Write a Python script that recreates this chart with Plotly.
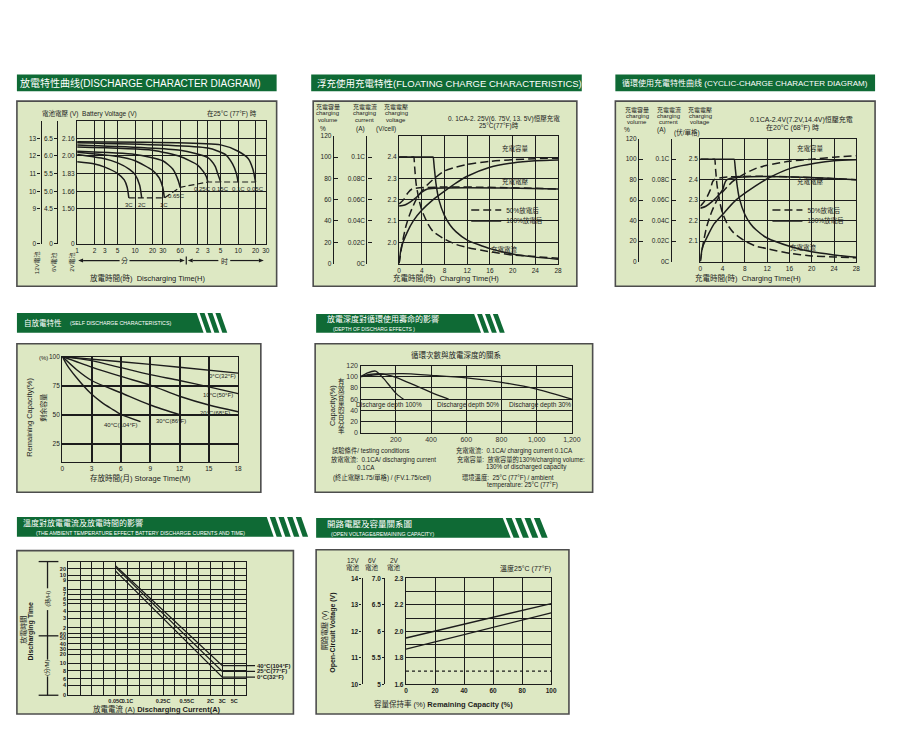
import numpy as np
import plotly.graph_objects as go

W, H = 898, 731
OFF = 8  # default page margin of the browser body
FW, FH = W - 2 * OFF, H - 2 * OFF
FONT = "Liberation Sans, Noto Sans CJK TC, sans-serif"
INK = "#1c1c1c"
GREEN = "#0f6a35"
PANEL = "#dde8c3"
EDGE = "#4d4d4d"
DASH = "6px,3px"
DASH2 = "8px,4px"

# ================= DATA =================
# Panel 1 - discharge curves (time in minutes, volts per cell)
p1_time_ticks = [1, 2, 3, 5, 10, 20, 30, 60, 120, 180, 300, 600, 1200, 1800]
p1_time_text = ["1", "2", "3", "5", "10", "20", "30", "60", "2", "3", "5", "10", "20", "30"]
p1_volt_ticks = [1.168, 1.50, 1.66, 1.83, 2.00, 2.16]
p1_volt_top = 2.326
p1_text_2v = ["0", "1.50", "1.66", "1.83", "2.00", "2.16"]
p1_text_6v = ["0", "4.5", "5.0", "5.5", "6.0", "6.5"]
p1_text_12v = ["0", "9", "10", "11", "12", "13"]
rates = ["3C", "2C", "1C", "0.65C", "0.25C", "0.15C", "0.1C", "0.05C"]
t_3c = [1, 2, 3, 5, 6.5, 7.3, 7.8]
v_3c = [1.94, 1.92, 1.89, 1.83, 1.77, 1.70, 1.60]
t_2c = [1, 3, 5, 8, 10, 12, 13]
v_2c = [2.01, 1.97, 1.93, 1.87, 1.82, 1.72, 1.60]
t_1c = [1, 5, 10, 20, 26, 30, 32]
v_1c = [2.03, 1.99, 1.95, 1.86, 1.79, 1.70, 1.60]
t_065c = [1, 10, 30, 45, 55, 60]
v_065c = [2.04, 2.01, 1.95, 1.87, 1.77, 1.70]
t_025c = [1, 20, 60, 120, 150, 170, 180]
v_025c = [2.08, 2.05, 1.99, 1.91, 1.85, 1.80, 1.75]
t_015c = [1, 60, 180, 240, 270, 300]
v_015c = [2.10, 2.05, 1.98, 1.90, 1.82, 1.75]
t_01c = [1, 180, 360, 480, 560, 600]
v_01c = [2.12, 2.07, 2.01, 1.92, 1.83, 1.75]
t_005c = [1, 300, 600, 900, 1080, 1200]
v_005c = [2.13, 2.10, 2.04, 1.97, 1.87, 1.75]
t_endv = [7.8, 32, 60, 180, 1200]
v_endv = [1.60, 1.60, 1.70, 1.75, 1.75]

# Panels 2 & 3 - charging characteristics (hours; %, C, V/cell)
chg_hours = [0, 4, 8, 12, 16, 20, 24, 28]
pct_ticks = [0, 20, 40, 60, 80, 100, 120]
cur_ticks = [0, 0.02, 0.04, 0.06, 0.08, 0.10, 0.12]
cur_text = ["0C", "0.02C", "0.04C", "0.06C", "0.08C", "0.1C", ""]

fl_cap50_t = [0, 0.6, 1.2, 2, 3, 4, 5, 6, 8, 10, 12, 16, 20, 24, 28]
fl_cap50 = [0, 20, 35, 48, 60, 68, 74, 79, 87, 90.5, 93, 96, 97.5, 98.5, 99]
fl_cap100_t = [0, 0.4, 1.4, 2.5, 3.9, 6, 8, 10, 12, 16, 20, 24, 28]
fl_cap100 = [0, 15, 29, 40, 49.5, 60, 68, 75.5, 82, 90.5, 94.5, 96.5, 97.2]
fl_v50_t = [0, 0.8, 1.5, 2.3, 28]
fl_v50 = [2.18, 2.20, 2.23, 2.25, 2.25]
fl_v100_t = [0, 1, 2, 3, 4, 5, 28]
fl_v100 = [2.17, 2.175, 2.19, 2.21, 2.235, 2.25, 2.25]
fl_i50_t = [0, 2.5, 2.6, 2.75, 3.0, 3.5, 4, 5, 6, 8, 10, 12, 16, 20, 24, 28]
fl_i50 = [0.1, 0.1, 0.1, 0.09, 0.075, 0.06, 0.05, 0.038, 0.03, 0.023, 0.018, 0.015, 0.011, 0.008, 0.0065, 0.005]
fl_i100_t = [0, 5.9, 6, 6.2, 6.5, 7, 8, 9, 10, 12, 16, 20, 24, 28]
fl_i100 = [0.1, 0.1, 0.1, 0.09, 0.075, 0.06, 0.045, 0.036, 0.03, 0.022, 0.014, 0.009, 0.006, 0.004]

cy_cap50_t = [0, 0.6, 1.2, 2, 3, 4, 5, 6, 8, 10, 12, 16, 20, 24, 28]
cy_cap50 = [0, 20, 35, 48, 60, 68, 74, 79, 86, 91, 94, 98, 100, 102, 103.5]
cy_cap100_t = [0, 0.4, 1.5, 2.5, 4, 6.2, 8.2, 12.4, 16.5, 20.6, 24, 28]
cy_cap100 = [0, 14, 27, 37, 46, 59, 67.5, 82, 91.5, 96, 98.5, 99.5]
cy_v50_t = [0, 0.9, 1.8, 2.5, 28]
cy_v50 = [2.27, 2.30, 2.35, 2.40, 2.40]
cy_v100_t = [0, 1, 2, 3, 4, 4.8, 28]
cy_v100 = [2.26, 2.27, 2.29, 2.315, 2.35, 2.40, 2.40]
cy_i50_t = [0, 2.5, 2.6, 2.75, 3, 3.5, 4, 5, 6, 8, 10, 12, 16, 20, 24, 28]
cy_i50 = [0.1, 0.1, 0.1, 0.09, 0.075, 0.058, 0.047, 0.035, 0.028, 0.02, 0.015, 0.0125, 0.008, 0.0055, 0.0045, 0.0036]
cy_i100_t = [0, 6.0, 6.1, 6.3, 6.6, 7, 8, 9, 10, 12, 16, 20, 24, 28]
cy_i100 = [0.1, 0.1, 0.1, 0.09, 0.075, 0.062, 0.046, 0.037, 0.031, 0.023, 0.015, 0.0095, 0.0065, 0.0042]

# Panel 4 - self discharge (months, % remaining)
sd_month_ticks = [0, 3, 6, 9, 12, 15, 18]
sd_pct_ticks = [25, 50, 75, 100]
sd_labels = ["0°C(32°F)", "10°C(50°F)", "20°C(68°F)", "30°C(86°F)", "40°C(104°F)"]
sd_m_0 = [0, 6, 12, 18]
sd_c_0 = [100, 95.6, 90.9, 85.8]
sd_m_10 = [0, 3, 6, 9, 12, 15, 18]
sd_c_10 = [100, 96.5, 90.5, 84.5, 79.5, 74, 68.3]
sd_m_20 = [0, 3, 6, 9, 12, 15, 18]
sd_c_20 = [100, 91, 83, 75.5, 66, 58.5, 52.7]
sd_m_30 = [0, 1.5, 3, 6, 9, 12.1]
sd_c_30 = [100, 88.5, 79.5, 69, 58.5, 50]
sd_m_40 = [0, 0.5, 1.4, 2.9, 4, 5, 6, 8]
sd_c_40 = [100, 92.5, 82.5, 68.5, 61, 55.5, 50.5, 44.3]

# Panel 5 - depth of discharge (cycles, capacity %)
dod_cycle_ticks = [200, 400, 600, 800, 1000, 1200]
dod_cycle_text = ["200", "400", "600", "800", "1,000", "1,200"]
dod_pct_ticks = [0, 20, 40, 60, 80, 100, 120]
dod_labels = ["Discharge depth 100%", "Discharge depth 50%", "Discharge depth 30%"]
dod_n_100 = [0, 40, 85, 130, 170, 206, 244]
dod_c_100 = [100, 107, 110, 97, 82, 69, 60]
dod_n_50 = [0, 50, 110, 150, 200, 300, 400, 500]
dod_c_50 = [100, 104, 105.5, 103.5, 99, 86, 72, 60]
dod_n_30 = [0, 100, 240, 400, 600, 800, 1000, 1200]
dod_c_30 = [100, 104, 105.5, 102.5, 98, 90, 78, 60]

# Panel 6 - temperature effect (current in C, time in minutes) on a nomogram scale
tc_labels = ["40°C(104°F)", "25°C(77°F)", "0°C(32°F)"]
tc_current = [0.05, 3]
tc_time_40 = [1320, 9.3]
tc_time_25 = [1260, 7.8]
tc_time_0 = [990, 6.4]
nomo_y_text = ["0", "4", "6", "8", "10", "20", "30", "40", "50", "60", "2", "3", "4", "5", "6", "7", "8", "9", "10", "20", ""]
nomo_y_minutes = [0, 4, 6, 8, 10, 20, 30, 40, 50, 60, 120, 180, 240, 300, 360, 420, 480, 540, 600, 1200, 1500]
nomo_y_scale = [0, 30, 50, 75, 98, 125, 140, 157, 175, 187, 205, 235, 255, 278, 292, 307, 322, 350, 365, 385, 407]
nomo_x_text = ["0.05C", "0.1C", "0.25C", "0.55C", "2C", "3C", "5C"]
nomo_x_current = [0.05, 0.1, 0.25, 0.55, 2, 3, 5]
nomo_x_scale = [4, 5, 8, 10, 12, 13, 14]

# Panel 7 - open circuit voltage vs remaining capacity (12V battery scale)
ocv_capacity = [0, 100]
ocv_upper = [11.75, 13.05]
ocv_lower = [11.33, 12.70]
ocv_cutoff = 10.5
ocv_cap_ticks = [0, 20, 40, 60, 80, 100]
ocv_ticks = [10, 11, 12, 13, 14]
ocv_text_12v = ["10", "11", "12", "13", "14"]
ocv_text_6v = ["5", "5.5", "6", "6.5", "7.0"]
ocv_text_2v = ["1.6", "1.8", "2.0", "2.2", "2.3"]


# ================= HELPERS =================
def X(px):
    return (px - OFF) / FW


def Y(py):
    return 1 - (py - OFF) / FH


layout = dict(width=FW, height=FH, autosize=False, margin=dict(l=0, r=0, t=0, b=0, pad=0),
              paper_bgcolor="white", plot_bgcolor="rgba(0,0,0,0)", hovermode=False,
              font=dict(family=FONT, size=7, color=INK), shapes=[], annotations=[])
traces = []
counter = {"x": 0, "y": 0}


def axname(kind, n):
    return (kind + "axis") if n == 1 else f"{kind}axis{n}"


def axref(kind, n):
    return kind if n == 1 else f"{kind}{n}"


def axis_common():
    return dict(showline=True, mirror=True, linecolor=INK, linewidth=1.4, showgrid=True,
                gridcolor=INK, gridwidth=1.1, zeroline=False, ticks="", tickmode="array",
                tickfont=dict(size=6.5, color=INK, family=FONT), fixedrange=True)


def base_axes(px0, px1, py0, py1, xkw, ykw):
    counter["x"] += 1
    counter["y"] += 1
    nx, ny = counter["x"], counter["y"]
    xr, yr = axref("x", nx), axref("y", ny)
    xa = axis_common()
    xa.update(domain=[X(px0), X(px1)], anchor=yr)
    xa.update(xkw)
    ya = axis_common()
    ya.update(domain=[Y(py1), Y(py0)], anchor=xr)
    ya.update(ykw)
    layout[axname("x", nx)] = xa
    layout[axname("y", ny)] = ya
    return xr, yr


def extra_y(base_yr, xr, px, **kw):
    counter["y"] += 1
    ny = counter["y"]
    yr = axref("y", ny)
    ya = dict(overlaying=base_yr, anchor="free", position=X(px), side="left", showline=True,
              linecolor=INK, linewidth=1.3, showgrid=False, zeroline=False, tickmode="array",
              ticks="outside", ticklen=3, tickcolor=INK, tickwidth=1.2,
              tickfont=dict(size=6.5, color=INK, family=FONT), fixedrange=True)
    ya.update(kw)
    layout[axname("y", ny)] = ya
    traces.append(go.Scatter(x=[None], y=[None], xaxis=xr, yaxis=yr, mode="lines",
                             showlegend=False, hoverinfo="skip"))
    return yr


def line(x, y, xr, yr, dash="solid", width=1.5, shape="spline", smoothing=0.7, name=None, legend=None):
    kw = dict(x=x, y=y, xaxis=xr, yaxis=yr, mode="lines", hoverinfo="skip",
              line=dict(color=INK, width=width, dash=dash, shape=shape, smoothing=smoothing),
              showlegend=name is not None)
    if name is not None:
        kw["name"] = name
        kw["legend"] = legend
    traces.append(go.Scatter(**kw))


def txt(x, y, s, size=7, color=INK, anchor="center", angle=0, xref="paper", yref="paper"):
    if xref == "paper":
        x = X(x)
    if yref == "paper":
        y = Y(y)
    layout["annotations"].append(dict(x=x, y=y, xref=xref, yref=yref, text=s, showarrow=False,
                                      xanchor=anchor, yanchor="middle", textangle=angle,
                                      font=dict(size=size, color=color, family=FONT)))


def rect(x0, y0, x1, y1, fill, edge=None, lw=0):
    layout["shapes"].append(dict(type="rect", xref="paper", yref="paper", x0=X(x0), x1=X(x1),
                                 y0=Y(y1), y1=Y(y0), fillcolor=fill, layer="below",
                                 line=dict(color=edge or fill, width=lw)))


def poly(pts, fill, layer="below"):
    path = "M " + " L ".join(f"{X(a):.5f},{Y(b):.5f}" for a, b in pts) + " Z"
    layout["shapes"].append(dict(type="path", xref="paper", yref="paper", path=path,
                                 fillcolor=fill, line=dict(width=0), layer=layer))


def seg(x0, y0, x1, y1, width=1.2):
    layout["shapes"].append(dict(type="line", xref="paper", yref="paper", x0=X(x0), y0=Y(y0),
                                 x1=X(x1), y1=Y(y1), line=dict(color=INK, width=width)))


def header(x0, x1, y0, y1, n=0, gap=3, w=5, pitch=8, shear=7):
    if n == 0:
        rect(x0, y0, x1, y1, GREEN)
        return
    poly([(x0, y0), (x1, y0), (x1 + shear, y1), (x0, y1)], GREEN)
    for i in range(n):
        sx = x1 + gap + i * pitch
        poly([(sx, y0), (sx + w, y0), (sx + w + shear, y1), (sx + shear, y1)], GREEN)


def panel(x0, y0, x1, y1):
    rect(x0, y0, x1, y1, PANEL, EDGE, 1.6)


def legend_box(key, px, py):
    layout[key] = dict(x=X(px), y=Y(py), xanchor="left", yanchor="middle", bgcolor="rgba(0,0,0,0)",
                       font=dict(size=6.5, color=INK, family=FONT), itemwidth=30, tracegroupgap=0,
                       borderwidth=0)


# ================= PANEL 1 =================
header(15, 278, 71, 88)
txt(140, 80, "放電特性曲线(DISCHARGE CHARACTER DIAGRAM)", size=10, color="white")
panel(15, 98, 278, 285)
x1r, y1r = base_axes(76, 267, 118, 242,
                     dict(type="log", range=[0, np.log10(1800)], tickvals=p1_time_ticks,
                          ticktext=p1_time_text, gridwidth=1.4),
                     dict(range=[p1_volt_ticks[0], p1_volt_top], tickvals=p1_volt_ticks,
                          ticktext=p1_text_2v, gridwidth=1.4))
extra_y(y1r, x1r, 39, range=[p1_volt_ticks[0], p1_volt_top], tickvals=p1_volt_ticks, ticktext=p1_text_12v)
extra_y(y1r, x1r, 56, range=[p1_volt_ticks[0], p1_volt_top], tickvals=p1_volt_ticks, ticktext=p1_text_6v)
p1_curves = [(t_3c, v_3c), (t_2c, v_2c), (t_1c, v_1c), (t_065c, v_065c), (t_025c, v_025c),
             (t_015c, v_015c), (t_01c, v_01c), (t_005c, v_005c)]
for tt, vv in p1_curves:
    line(tt, vv, x1r, y1r, width=1.5, smoothing=0.6)
line(t_endv, v_endv, x1r, y1r, dash=DASH, width=1.2, shape="linear")
p1_label_shift = [1.0, 1.0, 1.0, 0.85, 0.8, 1.0, 1.0, 1.0]
for (tt, vv), lab, f in zip(p1_curves, rates, p1_label_shift):
    dv = 0.08 if lab == "0.65C" else 0.065
    txt(np.log10(tt[-1] * f), vv[-1] - dv, lab, size=6, xref=x1r, yref=y1r)
txt(89, 111, "電池電壓 (V)  Battery Voltage (V)", size=6.5)
txt(233, 110, "在25°C (77°F) 時", size=6.5)
txt(35, 261, "12V電池", size=6, angle=-90)
txt(52, 261, "6V電池", size=6, angle=-90)
txt(70, 261, "2V電池", size=6, angle=-90)
# minute / hour arrow row
poly([(77, 259), (82, 257), (82, 261)], INK, layer="above")
seg(82, 259, 119, 259)
txt(124, 259, "分", size=7)
seg(129, 259, 180, 259)
poly([(185, 259), (180, 257), (180, 261)], INK, layer="above")
seg(186.5, 255, 186.5, 263)
poly([(188, 259), (193, 257), (193, 261)], INK, layer="above")
seg(193, 259, 219, 259)
txt(225, 259, "时", size=7)
seg(231, 259, 260, 259)
poly([(265, 259), (260, 257), (260, 261)], INK, layer="above")
txt(148, 277, "放電時間(時)  Discharging Time(H)", size=7.5)


# ================= PANELS 2 & 3 =================
def charge_panel(px0, px1, py0, py1, v_lo, v_ticks, pct_px, cur_px, cap50, cap100, v50, v100,
                 i50, i100, leg_a, leg_b):
    xr, yv = base_axes(px0, px1, py0, py1,
                       dict(range=[0, 28], tickvals=chg_hours, ticktext=[str(h) for h in chg_hours]),
                       dict(range=[v_lo, v_lo + 0.6], tickvals=v_ticks,
                            ticktext=[f"{v:.1f}" for v in v_ticks]))
    yp = extra_y(yv, xr, pct_px, range=[0, 120], tickvals=pct_ticks,
                 ticktext=[str(p) for p in pct_ticks], ticks="inside", ticklen=4)
    yi = extra_y(yv, xr, cur_px, range=[0, 0.12], tickvals=cur_ticks, ticktext=cur_text,
                 ticks="inside", ticklen=4)
    line(cap50[0], cap50[1], xr, yp, dash=DASH2, name="50%放電后", legend=leg_a)
    line(cap100[0], cap100[1], xr, yp, name="100%放電后", legend=leg_b)
    line(v50[0], v50[1], xr, yv, dash=DASH2)
    line(v100[0], v100[1], xr, yv)
    line(i50[0], i50[1], xr, yi, dash=DASH2, smoothing=0.5)
    line(i100[0], i100[1], xr, yi, smoothing=0.5)
    return xr, yv, yp, yi


# Panel 2
header(313, 587, 71, 88)
txt(453, 80, "浮充使用充電特性(FLOATING CHARGE CHARACTERISTICS)", size=9.5, color="white")
panel(315, 98, 582, 285)
x2r, y2v, y2p, y2i = charge_panel(402, 563, 133, 262, 1.9, [2.0, 2.1, 2.2, 2.3, 2.4], 335, 369,
                                  (fl_cap50_t, fl_cap50), (fl_cap100_t, fl_cap100),
                                  (fl_v50_t, fl_v50), (fl_v100_t, fl_v100),
                                  (fl_i50_t, fl_i50), (fl_i100_t, fl_i100), "legend", "legend2")
for cx, lines3 in [(330, ["充電容量", "charging", "volume"]), (367, ["充電電流", "charging", "current"]),
                   (399, ["充電電壓", "charging", "voltage"])]:
    for k, s in enumerate(lines3):
        txt(cx, 104 + k * 6.5, s, size=6)
txt(325, 126, "%", size=6.5)
txt(363, 126, "(A)", size=6.5)
txt(389, 126, "(V/cell)", size=6.5)
txt(508, 116, "0. 1CA-2. 25V(6. 75V, 13. 5V)恒壓充電", size=6.5)
txt(503, 123, "25°C(77°F)時", size=6.5)
txt(20.5, 108.5, "充電容量", size=6.5, xref=x2r, yref=y2p)
txt(20.5, 77.5, "充電電壓", size=6.5, xref=x2r, yref=y2p)
txt(18.5, 13.4, "充電電流", size=6.5, xref=x2r, yref=y2p)
txt(450, 277, "充電時間(時)  Charging Time(H)", size=7.5)
legend_box("legend", 470, 208)
legend_box("legend2", 470, 219)

# Panel 3
header(621, 884, 71, 88)
txt(752, 80, "循環使用充電特性曲线 (CYCLIC-CHARGE CHARACTER DIAGRAM)", size=8, color="white")
panel(621, 98, 884, 285)
x3r, y3v, y3p, y3i = charge_panel(707, 865, 136, 260, 2.0, [2.1, 2.2, 2.3, 2.4, 2.5], 644, 677,
                                  (cy_cap50_t, cy_cap50), (cy_cap100_t, cy_cap100),
                                  (cy_v50_t, cy_v50), (cy_v100_t, cy_v100),
                                  (cy_i50_t, cy_i50), (cy_i100_t, cy_i100), "legend3", "legend4")
for cx, lines3 in [(643, ["充電容量", "charging", "volume"]), (675, ["充電電流", "charging", "current"]),
                   (707, ["充電電壓", "charging", "voltage"])]:
    for k, s in enumerate(lines3):
        txt(cx, 107 + k * 5.8, s, size=6)
txt(633, 127, "%", size=6.5)
txt(668, 127, "(A)", size=6.5)
txt(694, 130, "(伏/單格)", size=6.5)
txt(810, 117, "0.1CA-2.4V(7.2V,14.4V)恒壓充電", size=7)
txt(800, 125, "在20°C (68°F) 時", size=7)
txt(19.8, 110, "充電容量", size=6.5, xref=x3r, yref=y3p)
txt(19.8, 77.8, "充電電壓", size=6.5, xref=x3r, yref=y3p)
txt(18.6, 14, "充電電流", size=6.5, xref=x3r, yref=y3p)
txt(755, 277, "充電時間(時)  Charging Time(H)", size=7.5)
legend_box("legend3", 775, 208)
legend_box("legend4", 775, 219)

# ================= PANEL 4 =================
header(15, 197, 312, 332, n=3, gap=3, w=5, pitch=8, shear=7)
txt(41, 322, "自放電特性", size=7.5, color="white")
txt(120, 322.5, "(SELF DISCHARGE CHARACTERISTICS)", size=5.3, color="white")
panel(15, 343, 262, 493)
x4r, y4r = base_axes(61, 239, 356, 462,
                     dict(range=[0, 18], tickvals=sd_month_ticks, ticktext=[str(m) for m in sd_month_ticks],
                          gridwidth=1.6),
                     dict(range=[10, 100], tickvals=sd_pct_ticks, ticktext=[str(p) for p in sd_pct_ticks],
                          gridwidth=1.6))
sd_curves = [(sd_m_0, sd_c_0), (sd_m_10, sd_c_10), (sd_m_20, sd_c_20), (sd_m_30, sd_c_30), (sd_m_40, sd_c_40)]
for mm, cc in sd_curves:
    line(mm, cc, x4r, y4r, width=1.4, smoothing=0.8)
sd_label_dx = [-1.6, -2.1, -2.4, -1.0, -2.0]
sd_label_dy = [-2.8, -1.4, -1.1, -5.2, -2.9]
for (mm, cc), lab, ddx, ddy in zip(sd_curves, sd_labels, sd_label_dx, sd_label_dy):
    txt(mm[-1] + ddx, cc[-1] + ddy, lab, size=6, xref=x4r, yref=y4r)
txt(42, 357, "(%)", size=6)
txt(28, 417, "Remaining Capacity(%)", size=7.5, angle=-90)
txt(42, 408, "剩余容量", size=7, angle=-90)
txt(140, 479, "存放時間(月) Storage Time(M)", size=7.5)

# ================= PANEL 5 =================
header(318, 478, 313, 332, n=3, gap=3, w=5, pitch=8, shear=7)
txt(386, 318, "放電深度對循環使用壽命的影響", size=8, color="white")
txt(377, 328, "(DEPTH OF DISCHARG EFFECTS )", size=5, color="white")
panel(317, 343, 598, 493)
x5r, y5r = base_axes(363, 577, 365, 433,
                     dict(range=[0, 1200], tickvals=dod_cycle_ticks, ticktext=dod_cycle_text,
                          tickfont=dict(size=7, color="#333", family=FONT)),
                     dict(range=[0, 120], tickvals=dod_pct_ticks, ticktext=[str(p) for p in dod_pct_ticks],
                          tickfont=dict(size=7, color="#333", family=FONT)))
dod_curves = [(dod_n_100, dod_c_100), (dod_n_50, dod_c_50), (dod_n_30, dod_c_30)]
for nn, cc in dod_curves:
    line(nn, cc, x5r, y5r, width=1.3, smoothing=0.8)
for (nn, cc), lab, frac in zip(dod_curves, dod_labels, [0.67, 1.22, 0.85]):
    txt(nn[-1] * frac, 50, lab, size=6.5, xref=x5r, yref=y5r)
txt(460, 354, "循環次數與放電深度的關系", size=7.5)
txt(334, 405, "Capacity(%)", size=7.5, angle=-90)
for k, ch in enumerate("有效容量的百分率"):
    txt(344, 381 + k * 7.1, ch, size=6.5)
txt(373, 451, "試驗條件/ testing conditions", size=6.3)
txt(386, 460, "放電電流:  0.1CA/ discharging current", size=6.3)
txt(369, 468, "0.1CA", size=6.3)
txt(385, 478, "(終止電壓1.75/單格) / (FV.1.75/cell)", size=6.3)
txt(519, 451, "充電電流:  0.1CA/ charging current 0.1CA", size=6.3)
txt(525, 460, "充電容量:  放電容量的130%/charging volume:", size=6.3)
txt(531, 468, "130% of discharged capacity", size=6.3)
txt(512, 478, "環境溫度:  25°C (77°F) / ambient", size=6.3)
txt(527, 486, "temperature: 25°C (77°F)", size=6.3)

# ================= PANEL 6 =================
header(15, 268, 518, 538, n=4, gap=3, w=5.5, pitch=8.8, shear=7)
txt(82, 524, "溫度對放電電流及放電時間的影響", size=8, color="white")
txt(140, 534, "(THE AMBIENT TEMPERATURE EFFECT BATTERY DISCHARGE CURENTS AND TIME)", size=5.2, color="white")
panel(15, 552, 295, 717)
x6r, y6r = base_axes(67, 247, 563, 698,
                     dict(range=[0, 15], tickvals=nomo_x_scale, ticktext=[f"<b>{s}</b>" for s in nomo_x_text],
                          tickangle=0, tickfont=dict(size=5.5, color=INK, family=FONT), showgrid=False,
                          minor=dict(tickvals=list(range(0, 16)), showgrid=True, gridcolor=INK, gridwidth=1.1,
                                     ticks="")),
                     dict(range=[0, nomo_y_scale[-1]], tickvals=nomo_y_scale[:-1],
                          ticktext=[f"<b>{s}</b>" for s in nomo_y_text[:-1]],
                          tickfont=dict(size=5.5, color=INK, family=FONT)))
log_cur = np.log10(nomo_x_current)


def nomo_x(c):
    return float(np.interp(np.log10(c), log_cur, nomo_x_scale))


def nomo_y(m):
    return float(np.interp(m, nomo_y_minutes, nomo_y_scale))


for times, lab in zip([tc_time_40, tc_time_25, tc_time_0], tc_labels):
    xs = [nomo_x(c) for c in tc_current] + [15]
    ys = [nomo_y(m) for m in times] + [nomo_y(times[-1])]
    line(xs, ys, x6r, y6r, width=1.3, shape="linear")
    layout["annotations"].append(dict(x=15, y=ys[-1], xref=x6r, yref=y6r, text=f"<b>{lab}</b>",
                                      showarrow=True, arrowhead=0, arrowwidth=1.3, arrowcolor=INK,
                                      ax=9, ay=0, xanchor="left", yanchor="middle",
                                      font=dict(size=6, color=INK, family=FONT)))
# left bracket of the time scale
for a, b in [(563, 590), (612, 662), (679, 698)]:
    seg(46, a, 46, b, width=1.3)
for yy in [563, 638, 698]:
    seg(37, yy, 57, yy, width=1.3)
txt(46, 601, "(時/H)", size=6, angle=-90)
txt(46, 670, "(分/M)", size=6, angle=-90)
txt(22, 632, "放電時間", size=7, angle=-90)
txt(29, 633, "<b>Discharging Time</b>", size=7, angle=-90)
txt(157, 712, "放電電流 (A) <b>Discharging Current(A)</b>", size=7.5)

# ================= PANEL 7 =================
header(318, 507, 519, 539, n=4, gap=3, w=6, pitch=9.5, shear=8)
txt(372, 525, "開路電壓及容量關系圖", size=8.5, color="white")
txt(385, 535, "(OPEN VOLTAGE&REMAINING CAPACITY)", size=5.2, color="white")
panel(318, 551, 574, 717)
x7r, y7r = base_axes(409, 556, 580, 687,
                     dict(range=[0, 100], tickvals=ocv_cap_ticks, ticktext=[f"<b>{c}</b>" for c in ocv_cap_ticks]),
                     dict(range=[10, 14], tickvals=ocv_ticks, ticktext=[f"<b>{s}</b>" for s in ocv_text_2v],
                          minor=dict(tickvals=[11.5, 12.5, 13.5], showgrid=True, gridcolor=INK,
                                     gridwidth=1.1, ticks="")))
extra_y(y7r, x7r, 364, range=[10, 14], tickvals=ocv_ticks, ticktext=[f"<b>{s}</b>" for s in ocv_text_12v],
        ticklen=2)
extra_y(y7r, x7r, 387, range=[10, 14], tickvals=ocv_ticks, ticktext=[f"<b>{s}</b>" for s in ocv_text_6v],
        ticklen=2)
line(ocv_capacity, ocv_upper, x7r, y7r, width=1.4, shape="linear")
line(ocv_capacity, ocv_lower, x7r, y7r, width=1.4, shape="linear")
line(ocv_capacity, [ocv_cutoff, ocv_cutoff], x7r, y7r, width=1.2, dash="dot", shape="linear")
for cx, s in [(355, "12V"), (375, "6V"), (397, "2V")]:
    txt(cx, 562, s, size=6.5)
    txt(cx, 568, "電池", size=6.5)
txt(530, 570, "溫度25°C (77°F)", size=7)
txt(327, 633, "開路電壓 (V)", size=7, angle=-90)
txt(335, 635, "<b>Open-Circuit Voltage (V)</b>", size=7, angle=-90)
txt(447, 707, "容量保持率 (%) <b>Remaining Capacity (%)</b>", size=7.5)

fig = go.Figure(data=traces, layout=layout)
fig.write_html("out.html")
